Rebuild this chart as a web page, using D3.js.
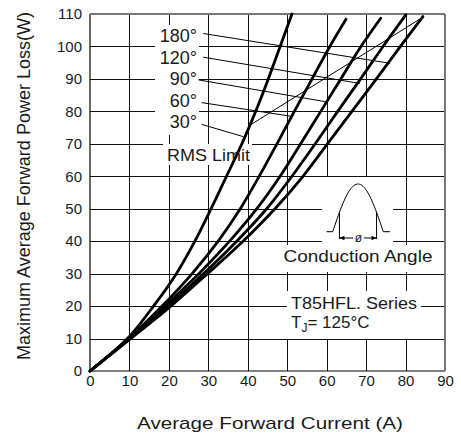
<!DOCTYPE html>
<html>
<head>
<meta charset="utf-8">
<script src="https://cdn.jsdelivr.net/npm/d3@7"></script>
<style>
  body { margin: 0; background: #fff; }
  text { font-family: "Liberation Sans", Arial, sans-serif; fill: #1a1a1a; }
</style>
</head>
<body>
<div id="chart"></div>
<script>
// tick values
const xTicks = [0, 10, 20, 30, 40, 50, 60, 70, 80, 90];
const yTicks = [0, 10, 20, 30, 40, 50, 60, 70, 80, 90, 100, 110];

// curves: [current (A), power loss (W)]
const curve30 = [[0,0],[9.5,10],[16.1,20],[21.9,30],[26.6,40],[30.7,50],[34.6,60],[38.5,70],[42.0,80],[45.2,90],[48.2,100],[51.2,110]];
const curve60 = [[0,0],[9.8,10],[18.3,20],[25.9,30],[32.5,40],[38.1,50],[42.9,60],[47.4,70],[51.8,80],[56.3,90],[60.8,100],[64.9,108.4]];
const curve90 = [[0,0],[10,10],[19,20],[27.6,30],[35.4,40],[42.3,50],[48.2,60],[53.4,70],[58.5,80],[63.6,90],[68.7,100],[73.7,108.7]];
const curve120 = [[0,0],[10.1,10],[19.7,20],[28.8,30],[37.2,40],[44.8,50],[51.2,60],[57.1,70],[62.8,80],[68.6,90],[74.3,100],[80.1,109.8]];
const curve180 = [[0,0],[10.3,10],[20.5,20],[29.8,30],[38.8,40],[46.9,50],[54,60],[60.2,70],[66.4,80],[72.6,90],[78.7,100],[84.4,109.2]];

// RMS limit line
const rmsLimit = [[40.5,75.7],[84.5,109.1]];

// angle labels and their leader lines (data units), top to bottom
const angleLabels = ["180°", "120°", "90°", "60°", "30°"];
const leaderFrom = [[28.7,104.0],[28.7,96.7],[27.5,89.7],[28.3,82.7],[28.3,76.0]];
const leaderTo   = [[76.1,94.8],[68.4,88.6],[59.6,83.0],[51.5,78.4],[38.9,72.2]];

const W = 461, H = 440;
const margin = { top: 14, right: 16, bottom: 69, left: 90 };
const width = W - margin.left - margin.right;
const height = H - margin.top - margin.bottom;

const svg = d3.select('#chart').append('svg')
    .attr('width', W).attr('height', H);

// solid page background
svg.append('rect').attr('width', W).attr('height', H).attr('fill', '#fff');

const x = d3.scaleLinear().domain([0, 90]).range([margin.left, margin.left + width]);
const y = d3.scaleLinear().domain([0, 110]).range([margin.top + height, margin.top]);

const x0 = x(0), x1 = x(90), y0 = y(0), y1 = y(110);

// grid, drawn as 1px filled bars
const gGrid = svg.append('g');
gGrid.selectAll('.v')
    .data(xTicks.slice(1, -1))
    .join('rect').attr('class', 'v')
    .attr('x', d => Math.round(x(d))).attr('y', y1)
    .attr('width', 1).attr('height', y0 - y1)
    .attr('fill', '#111');
gGrid.selectAll('.h')
    .data(yTicks.slice(1, -1))
    .join('rect').attr('class', 'h')
    .attr('x', x0).attr('y', d => Math.round(y(d)))
    .attr('width', x1 - x0).attr('height', 1)
    .attr('fill', '#111');

// white patches where the labels break the grid
const patches = [
    [155, 25, 44, 110],   // angle labels
    [163, 144, 89, 21],   // RMS Limit
    [322, 177, 71, 68],   // waveform icon
    [281, 245, 154, 27],  // Conduction Angle
    [287, 291, 134, 48]   // series / Tj
];
svg.append('g').selectAll('rect')
    .data(patches)
    .join('rect')
    .attr('x', d => d[0]).attr('y', d => d[1])
    .attr('width', d => d[2]).attr('height', d => d[3])
    .attr('fill', '#fff');

// frame
const gFrame = svg.append('g');
gFrame.append('line').attr('x1', x0).attr('x2', x0).attr('y1', y1).attr('y2', y0).attr('stroke', '#000').attr('stroke-width', 1.2);
gFrame.append('line').attr('x1', x0).attr('x2', x1).attr('y1', y0).attr('y2', y0).attr('stroke', '#000').attr('stroke-width', 1.2);
gFrame.append('line').attr('x1', x0).attr('x2', x1).attr('y1', y1).attr('y2', y1).attr('stroke', '#777').attr('stroke-width', 2);
gFrame.append('line').attr('x1', x1).attr('x2', x1).attr('y1', y1).attr('y2', y0).attr('stroke', '#777').attr('stroke-width', 2);

// tick labels
svg.append('g')
    .attr('transform', `translate(0,${y0})`)
    .call(d3.axisBottom(x).tickValues(xTicks).tickSize(0).tickPadding(4))
    .call(g => g.select('.domain').remove())
    .selectAll('text').style('font-size', '15px').attr('fill', '#1a1a1a');
svg.append('g')
    .attr('transform', `translate(${x0},0)`)
    .call(d3.axisLeft(y).tickValues(yTicks).tickSize(0).tickPadding(8))
    .call(g => g.select('.domain').remove())
    .selectAll('text').style('font-size', '15px').attr('fill', '#1a1a1a');
svg.selectAll('.tick text').style('font-family', '"Liberation Sans", Arial, sans-serif');

// axis titles
svg.append('text')
    .attr('x', 270).attr('y', 429)
    .attr('text-anchor', 'middle')
    .style('font-size', '17px')
    .attr('textLength', 266).attr('lengthAdjust', 'spacingAndGlyphs')
    .text('Average Forward Current (A)');
svg.append('text')
    .attr('transform', 'translate(30,186) rotate(-90)')
    .attr('text-anchor', 'middle')
    .style('font-size', '17.5px')
    .attr('textLength', 348).attr('lengthAdjust', 'spacingAndGlyphs')
    .text('Maximum Average Forward Power Loss(W)');

const gLines = svg.append('g');
const gCurves = svg.append('g');
const gText = svg.append('g');

// angle labels
const labelBase = [41.7, 64, 85, 106.7, 128.3];
angleLabels.forEach((t, i) => {
    gText.append('text')
        .attr('x', 197).attr('y', labelBase[i])
        .attr('text-anchor', 'end')
        .style('font-size', '18px')
        .text(t);
    gLines.append('line')
        .attr('x1', x(leaderFrom[i][0])).attr('y1', y(leaderFrom[i][1]))
        .attr('x2', x(leaderTo[i][0])).attr('y2', y(leaderTo[i][1]))
        .attr('stroke', '#000').attr('stroke-width', 1);
});

// RMS limit
gLines.append('line')
    .attr('x1', x(rmsLimit[0][0])).attr('y1', y(rmsLimit[0][1]))
    .attr('x2', x(rmsLimit[1][0])).attr('y2', y(rmsLimit[1][1]))
    .attr('stroke', '#000').attr('stroke-width', 1);
gText.append('text')
    .attr('x', 167).attr('y', 160.7)
    .style('font-size', '17px')
    .attr('textLength', 83).attr('lengthAdjust', 'spacingAndGlyphs')
    .text('RMS Limit');

// curves
const line = d3.line().x(d => x(d[0])).y(d => y(d[1])).curve(d3.curveCatmullRom.alpha(0.5));
[curve30, curve60, curve90, curve120, curve180].forEach(c => {
    gCurves.append('path')
        .attr('d', line(c))
        .attr('fill', 'none')
        .attr('stroke', '#000')
        .attr('stroke-width', 2.8)
        .attr('stroke-linecap', 'round');
});

// conduction angle icon
const icon = gText.append('g');
const ph = d3.scaleLinear().domain([0, 180]).range([332.7, 383.3]);
const amp = d3.scaleLinear().domain([0, 1]).range([231.7, 184]);
const sine = d3.range(0, 181, 4).map(a => [a, Math.sin(a * Math.PI / 180)]);
icon.append('path')
    .attr('d', d3.line().x(d => ph(d[0])).y(d => amp(d[1]))(sine))
    .attr('fill', 'none').attr('stroke', '#000').attr('stroke-width', 1);
icon.append('line').attr('x1', 326.5).attr('x2', ph(0)).attr('y1', amp(0)).attr('y2', amp(0)).attr('stroke', '#000');
icon.append('line').attr('x1', ph(180)).attr('x2', 390).attr('y1', amp(0)).attr('y2', amp(0)).attr('stroke', '#000');
[24, 156].forEach(a => {
    icon.append('line')
        .attr('x1', ph(a)).attr('x2', ph(a))
        .attr('y1', amp(Math.sin(a * Math.PI / 180))).attr('y2', 239)
        .attr('stroke', '#000').attr('stroke-width', 1);
});
const ay = 238;
icon.append('line').attr('x1', ph(24)).attr('x2', 353).attr('y1', ay).attr('y2', ay).attr('stroke', '#000');
icon.append('line').attr('x1', 364).attr('x2', ph(156)).attr('y1', ay).attr('y2', ay).attr('stroke', '#000');
icon.append('path').attr('d', `M${ph(24)},${ay} l5,-2.2 l0,4.4 z`).attr('fill', '#000');
icon.append('path').attr('d', `M${ph(156)},${ay} l-5,-2.2 l0,4.4 z`).attr('fill', '#000');
icon.append('text').attr('x', 358.5).attr('y', 242).attr('text-anchor', 'middle')
    .style('font-size', '12px').text('ø');

gText.append('text')
    .attr('x', 358).attr('y', 262.3)
    .attr('text-anchor', 'middle')
    .style('font-size', '17px')
    .attr('textLength', 149).attr('lengthAdjust', 'spacingAndGlyphs')
    .text('Conduction Angle');

// series / junction temperature
gText.append('text')
    .attr('x', 291).attr('y', 309.3)
    .style('font-size', '17px')
    .attr('textLength', 126).attr('lengthAdjust', 'spacingAndGlyphs')
    .text('T85HFL. Series');
const t2 = gText.append('text')
    .attr('x', 291).attr('y', 328.3)
    .style('font-size', '17px');
t2.append('tspan').text('T');
t2.append('tspan').attr('dy', 4).style('font-size', '12px').text('J');
t2.append('tspan').attr('dy', -4).text('= 125°C');
</script>
</body>
</html>
